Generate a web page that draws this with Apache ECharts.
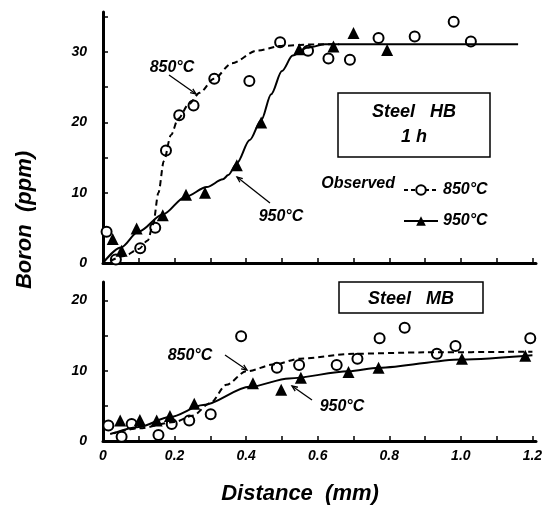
<!DOCTYPE html>
<html>
<head>
<meta charset="utf-8">
<script src="https://cdn.jsdelivr.net/npm/echarts@6/dist/echarts.min.js"></script>
<style>
  html, body { margin: 0; padding: 0; background: #fff; }
  #chart { width: 549px; height: 516px; }
</style>
</head>
<body>
<div id="chart"></div>
<script>
  // Steel HB, 1 h -- observed points [distance mm, boron ppm]
  var hb850 = [[0.01,4.45],[0.036,0.5],[0.104,2.1],[0.146,5.0],[0.176,16.0],[0.213,21.0],[0.253,22.4],
               [0.311,26.2],[0.409,25.9],[0.495,31.4],[0.573,30.2],[0.63,29.1],[0.69,28.9],[0.77,32.0],
               [0.871,32.2],[0.98,34.3],[1.028,31.5]];
  var hb950 = [[0.027,3.4],[0.052,1.75],[0.094,4.9],[0.167,6.8],[0.232,9.7],[0.285,10.0],[0.374,13.9],
               [0.442,20.0],[0.548,30.4],[0.644,30.8],[0.70,32.7],[0.794,30.3]];
  // fitted curves
  var hb850fit = [[0.02,0.3],[0.06,1.0],[0.10,2.0],[0.125,3.2],[0.14,5.5],[0.155,10],[0.17,14.5],[0.19,18.2],
                  [0.21,20.5],[0.24,22.6],[0.27,24.2],[0.31,26.2],[0.36,28.4],[0.43,30.2],[0.5,30.9],[0.6,31.1],[0.66,31.1]];
  var hb950fit = [[0,0],[0.05,2.2],[0.1,4.5],[0.167,6.9],[0.23,9.4],[0.29,10.8],[0.335,11.9],[0.35,12.5],
                  [0.374,14.2],[0.41,17.5],[0.442,20.3],[0.47,24],[0.5,27.3],[0.53,29.5],[0.57,30.6],
                  [0.62,31.1],[0.8,31.1],[1.16,31.1]];

  // Steel MB
  var mb850 = [[0.015,2.2],[0.052,0.6],[0.08,2.4],[0.155,0.85],[0.192,2.4],[0.241,2.9],[0.301,3.8],
               [0.386,14.9],[0.486,10.4],[0.548,10.8],[0.653,10.8],[0.711,11.7],[0.773,14.6],[0.843,16.1],
               [0.933,12.4],[0.985,13.5],[1.194,14.6]];
  var mb950 = [[0.048,2.9],[0.103,3.0],[0.15,2.9],[0.187,3.55],[0.255,5.3],[0.419,8.2],[0.498,7.3],
               [0.553,9.0],[0.686,9.8],[0.77,10.4],[1.003,11.7],[1.18,12.1]];
  var mb850fit = [[0.02,1.0],[0.1,1.8],[0.2,2.7],[0.25,3.6],[0.3,5.4],[0.345,8.0],[0.4,9.9],[0.48,10.9],
                  [0.55,11.7],[0.7,12.4],[0.9,12.6],[1.2,12.7]];
  var mb950fit = [[0.03,1.1],[0.1,2.0],[0.187,3.4],[0.28,5.1],[0.41,7.7],[0.52,8.9],[0.686,9.9],[0.77,10.4],
                  [1.0,11.6],[1.2,12.2]];

  // ticks
  var xTicks = [0,0.1,0.2,0.3,0.4,0.5,0.6,0.7,0.8,0.9,1.0,1.1,1.2];
  var xLabels = [0,0.2,0.4,0.6,0.8,1.0,1.2];
  var yTicksHB = [0,5,10,15,20,25,30,35];
  var yTicksMB = [0,5,10,15,20];
  var yLabelsHB = [0,10,20,30];
  var yLabelsMB = [0,10,20];

  var font = 'Liberation Sans';
  var txt = { fontFamily: font, fontStyle: 'italic', fontWeight: 'bold', fill: '#000' };

  function tx(x, y, s, size, align) {
    return { type: 'text', x: x, y: y, style: Object.assign({}, txt, {
      text: s, fontSize: size, textAlign: align || 'center', textVerticalAlign: 'middle' }) };
  }
  function arrow(x1, y1, x2, y2) {
    var a = Math.atan2(y2 - y1, x2 - x1), h = 6;
    return [
      { type: 'line', shape: { x1: x1, y1: y1, x2: x2, y2: y2 }, style: { stroke: '#000', lineWidth: 1.3 } },
      { type: 'polyline', shape: { points: [
          [x2 - h * Math.cos(a - 0.4), y2 - h * Math.sin(a - 0.4)], [x2, y2],
          [x2 - h * Math.cos(a + 0.4), y2 - h * Math.sin(a + 0.4)]] },
        style: { stroke: '#000', lineWidth: 1.3, fill: null } }
    ];
  }

  function xAx(idx, showLabel) {
    return {
      type: 'value', gridIndex: idx, min: 0, max: 1.21,
      axisLine: { lineStyle: { color: '#000', width: 3 } },
      axisTick: { inside: true, length: 5, customValues: xTicks, lineStyle: { color: '#000', width: 1.5 } },
      splitLine: { show: false },
      axisLabel: {
        show: showLabel, margin: 8, color: '#000', fontFamily: font, fontStyle: 'italic', fontWeight: 'bold', fontSize: 14,
        customValues: xLabels,
        formatter: function (v) { return v === 0 ? '0' : v.toFixed(1); }
      }
    };
  }
  function yAx(idx, max, ticks, labels) {
    return {
      type: 'value', gridIndex: idx, min: 0, max: max,
      axisLine: { show: true, lineStyle: { color: '#000', width: 3 } },
      axisTick: { show: true, inside: true, length: 5, customValues: ticks, lineStyle: { color: '#000', width: 1.5 } },
      splitLine: { show: false },
      axisLabel: {
        margin: 16, color: '#000', fontFamily: font, fontStyle: 'italic', fontWeight: 'bold', fontSize: 14,
        customValues: labels
      }
    };
  }

  function fit(name, data, idx, dashed) {
    return {
      name: name, type: 'line', xAxisIndex: idx, yAxisIndex: idx, data: data,
      smooth: 0.3, smoothMonotone: 'x', showSymbol: false, silent: true,
      lineStyle: { color: '#000', width: 2, type: dashed ? [6, 4] : 'solid' }
    };
  }
  function obs(name, data, idx, tri) {
    return {
      name: name, type: 'scatter', xAxisIndex: idx, yAxisIndex: idx, data: data,
      symbol: tri ? 'triangle' : 'circle', symbolSize: tri ? 12 : 10,
      itemStyle: tri ? { color: '#000', opacity: 1 } : { color: '#fff', borderColor: '#000', borderWidth: 2, opacity: 1 }
    };
  }

  var chart = echarts.init(document.getElementById('chart'));
  var option = {
    backgroundColor: '#fff',
    animation: false,
    grid: [
      { left: 103, right: 13, top: 12, height: 251 },
      { left: 103, right: 13, top: 282, height: 159 }
    ],
    xAxis: [xAx(0, false), xAx(1, true)],
    yAxis: [yAx(0, 35.7, yTicksHB, yLabelsHB), yAx(1, 22.6, yTicksMB, yLabelsMB)],
    legend: {
      left: 398, top: 177, orient: 'vertical', itemWidth: 34, itemHeight: 12, itemGap: 15,
      selectedMode: false, data: ['850°C', '950°C'],
      textStyle: { color: '#000', fontFamily: font, fontStyle: 'italic', fontWeight: 'bold', fontSize: 16 }
    },
    series: [
      fit('hb850fit', hb850fit, 0, true),
      fit('hb950fit', hb950fit, 0, false),
      obs('hb850', hb850, 0, false),
      obs('hb950', hb950, 0, true),
      fit('mb850fit', mb850fit, 1, true),
      fit('mb950fit', mb950fit, 1, false),
      obs('mb850', mb850, 1, false),
      obs('mb950', mb950, 1, true),
      // legend keys only
      { name: '850°C', type: 'line', data: [], symbol: 'circle', symbolSize: 9,
        itemStyle: { color: '#fff', borderColor: '#000', borderWidth: 2 },
        lineStyle: { color: '#000', width: 2, type: [4, 3] } },
      { name: '950°C', type: 'line', data: [], symbol: 'triangle', symbolSize: 11,
        itemStyle: { color: '#000' }, lineStyle: { color: '#000', width: 2 } }
    ],
    graphic: [
      tx(172, 68, '850°C', 16),
      tx(281, 217, '950°C', 16),
      tx(395, 184, 'Observed', 16, 'right'),
      { type: 'rect', shape: { x: 338, y: 93, width: 152, height: 64 }, style: { fill: '#fff', stroke: '#000', lineWidth: 1.5 } },
      tx(414, 112, 'Steel   HB', 18),
      tx(414, 137, '1 h', 18),
      { type: 'rect', shape: { x: 339, y: 282, width: 144, height: 31 }, style: { fill: '#fff', stroke: '#000', lineWidth: 1.5 } },
      tx(411, 299, 'Steel   MB', 18),
      tx(190, 356, '850°C', 16),
      tx(342, 407, '950°C', 16),
      tx(300, 494, 'Distance  (mm)', 22),
      { type: 'text', x: 25, y: 220, rotation: Math.PI / 2,
        style: Object.assign({}, txt, { text: 'Boron  (ppm)', fontSize: 22, textAlign: 'center', textVerticalAlign: 'middle' }) }
    ]
      .concat(arrow(169, 75, 196, 94))
      .concat(arrow(270, 203, 237, 177))
      .concat(arrow(225, 355, 247, 370))
      .concat(arrow(312, 400, 292, 386))
  };
  chart.setOption(option);
</script>
</body>
</html>
